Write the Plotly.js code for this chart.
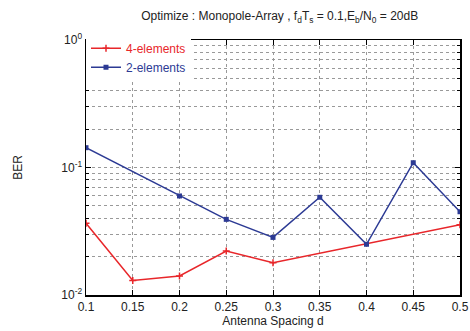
<!DOCTYPE html>
<html>
<head>
<script src="https://cdn.plot.ly/plotly-3.0.1.min.js"></script>
<style>body{margin:0;padding:0;background:#fff}#chart{width:470px;height:331px}</style>
</head>
<body>
<div id="chart"></div>
<script>
const spacing = [0.1, 0.15, 0.2, 0.25, 0.3, 0.35, 0.4, 0.45, 0.5];
const ber4 = [0.0365, 0.0130, 0.0141, 0.0221, 0.0179, null, null, null, 0.0356];
const spacing2 = [0.1, 0.2, 0.25, 0.3, 0.35, 0.4, 0.45, 0.5];
const ber2 = [0.143, 0.0598, 0.0392, 0.0283, 0.0584, 0.0250, 0.109, 0.045];
const xTicks = [0.1, 0.15, 0.2, 0.25, 0.3, 0.35, 0.4, 0.45, 0.5];
const xTickText = ['0.1', '0.15', '0.2', '0.25', '0.3', '0.35', '0.4', '0.45', '0.5'];
const yTicks = [0.01, 0.1, 1];
const yTickText = ['10<sup>-2</sup>', '10<sup>-1</sup>', '10<sup>0</sup>'];

const x4 = [], y4 = [];
spacing.forEach((s, i) => { if (ber4[i] !== null) { x4.push(s); y4.push(ber4[i]); } });

const fam = 'Liberation Sans, Arial, sans-serif';
const txt = '#222';
const traces = [
  {x: x4, y: y4, name: '<span style="color:#e8262a">4-elements</span>', mode: 'lines+markers',
   line: {color: '#e8262a', width: 1.5},
   marker: {symbol: 'cross-thin', size: 5, line: {color: '#e8262a', width: 1.5}, color: '#e8262a'}},
  {x: spacing2, y: ber2, name: '<span style="color:#2c3a94">2-elements</span>', mode: 'lines+markers',
   line: {color: '#2c3a94', width: 1.5},
   marker: {symbol: 'square', size: 5, color: '#2c3a94'}}
];
const layout = {
  width: 470, height: 331,
  margin: {l: 86, r: 10, t: 40, b: 36},
  paper_bgcolor: '#fff', plot_bgcolor: '#fff',
  font: {family: fam, size: 12, color: txt},
  showlegend: true,
  title: {text: 'Optimize : Monopole-Array , f<sub>d</sub>T<sub>s</sub> = 0.1,E<sub>b</sub>/N<sub>0</sub> = 20dB',
          x: 0.595, xanchor: 'center', y: 0.965, yanchor: 'top', font: {family: fam, size: 12, color: txt}},
  xaxis: {range: [0.1, 0.5], tickvals: xTicks, ticktext: xTickText,
          showgrid: true, gridcolor: '#999', griddash: 'dot', gridwidth: 1,
          ticks: 'inside', ticklen: 5, tickcolor: '#000', mirror: 'ticks',
          showline: true, linecolor: '#000', linewidth: 1.5, zeroline: false,
          tickfont: {family: fam, size: 12, color: txt},
          title: {text: 'Antenna Spacing d', font: {family: fam, size: 12, color: txt}, standoff: 2}},
  yaxis: {type: 'log', range: [-2, 0], tickvals: yTicks, ticktext: yTickText,
          showgrid: true, gridcolor: '#999', griddash: 'dot', gridwidth: 1,
          ticks: 'inside', ticklen: 5, tickcolor: '#000', mirror: 'ticks',
          showline: true, linecolor: '#000', linewidth: 1.5, zeroline: false,
          minor: {dtick: 'D1', showgrid: true, gridcolor: '#999', griddash: 'dot', gridwidth: 1,
                  ticks: 'inside', ticklen: 3, tickcolor: '#000'},
          tickfont: {family: fam, size: 12, color: txt},
          title: {text: 'BER', font: {family: fam, size: 12, color: txt}, standoff: 36}},
  legend: {x: 0.0, y: 1.025, xanchor: 'left', yanchor: 'top', bgcolor: '#fff',
           font: {family: fam, size: 12}, tracegroupgap: 0, itemwidth: 30},
};
Plotly.newPlot('chart', traces, layout, {displayModeBar: false, staticPlot: true});
</script>
</body>
</html>
